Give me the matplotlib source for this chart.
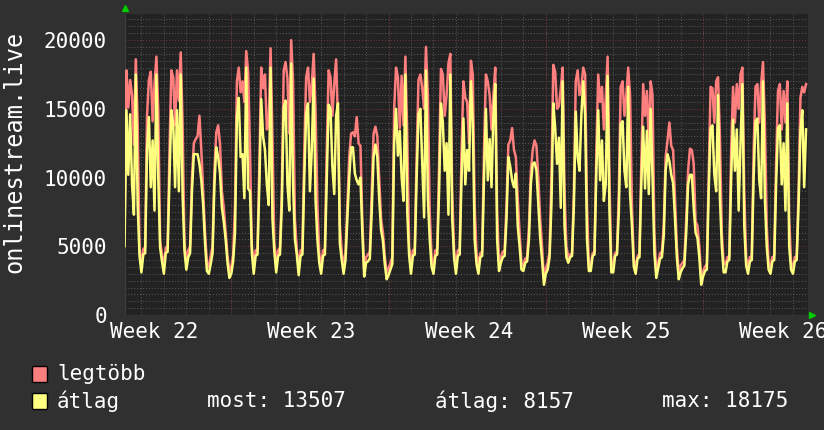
import numpy as np
import matplotlib
matplotlib.use("Agg")
import matplotlib.pyplot as plt
from matplotlib.patches import Rectangle

# munin month graph, one sample every 2 hours, x in days from the first day grid line
sample_step = 1 / 12
first_sample = -0.75

# legtöbb (max) - one row per day
legtobb = [
    6000, 17800, 15100, 17100, 16000, 12400, 18600, 14000, 4800,
    3600, 4800, 4900, 14500, 17100, 17700, 14100, 16800, 18800, 14900, 5400, 4400,
    3500, 4900, 5000, 12000, 17800, 17300, 13800, 17800, 15600, 19100, 14000, 5200,
    3800, 4700, 5000, 10000, 12500, 12800, 13000, 14500, 12000, 9000, 6000, 3800,
    3500, 4300, 5000, 10500, 13300, 13800, 12400, 9000, 7800, 6000, 4300, 3200,
    3500, 4400, 8000, 17000, 18000, 16200, 17000, 15500, 19200, 17700, 12000, 5000,
    3700, 4700, 4800, 11000, 18000, 16500, 17500, 13500, 14000, 19400, 13000, 5200,
    3700, 4700, 4900, 9000, 17800, 18400, 17200, 13200, 20000, 17000, 7000, 4800,
    3400, 4700, 4800, 12000, 17300, 18000, 15500, 16800, 19000, 15000, 8000, 4500,
    3500, 4700, 4800, 12000, 17800, 17300, 14500, 16800, 18600, 14000, 6500, 4600,
    3500, 4500, 8000, 11500, 13200, 13300, 13000, 14400, 12500, 12300, 7000, 3200,
    4200, 4400, 4600, 9000, 13200, 13700, 13000, 10000, 7000, 6000, 4300, 3100,
    3400, 3800, 4200, 15000, 18000, 17300, 13600, 17400, 13800, 18800, 13000, 5000,
    3600, 4700, 4800, 11500, 17100, 17500, 16500, 15000, 19500, 16000, 7500, 4200,
    3400, 4700, 4800, 11000, 17900, 17500, 14500, 16000, 18300, 19000, 9000, 4800,
    3400, 4700, 4800, 12000, 17000, 15800, 15500, 12500, 18500, 17500, 8000, 4500,
    3400, 4500, 4600, 12000, 17500, 17000, 16000, 13500, 16000, 18000, 7500, 3900,
    4200, 4600, 4700, 8000, 12400, 12700, 13600, 12000, 11500, 8500, 6000, 3800,
    3600, 4100, 4200, 6500, 10500, 12000, 12700, 12300, 10000, 7000, 5000, 2600,
    3400, 3800, 4600, 10000, 18200, 17700, 15000, 15200, 16500, 18000, 9000, 5000,
    4200, 4400, 4500, 9000, 17000, 17800, 16000, 16600, 18000, 17500, 8000, 3600,
    3600, 4500, 4600, 12000, 17500, 15500, 16600, 13500, 15800, 18800, 10000, 3600,
    3700, 4500, 4600, 9000, 16600, 17000, 14500, 16000, 18000, 16000, 8000, 4000,
    3500, 4300, 4400, 11000, 16800, 14500, 16300, 12400, 17000, 16000, 6000, 3000,
    3800, 4500, 4600, 6500, 11500, 12700, 14000, 12300, 12000, 8500, 5000, 3000,
    3600, 3800, 4000, 7000, 10500, 12100, 12000, 11000, 6800, 6500, 5000, 2700,
    3200, 3500, 3700, 10000, 16600, 16500, 14000, 17000, 17300, 13000, 6000, 3700,
    3700, 4200, 4300, 12000, 16600, 14000, 16800, 15000, 17500, 18000, 9000, 4200,
    3500, 4200, 4300, 12000, 16600, 16800, 14000, 16800, 18400, 14000, 6500, 3800,
    3500, 4200, 4300, 11000, 16300, 16800, 13500, 16300, 14000, 17000, 7000, 3800,
    3500, 4200, 4300, 9000, 15800, 16600, 16200, 16800,
]

# átlag (average) - one row per day
atlag = [
    5000, 14900, 10200, 14600, 9500, 7300, 17500, 8000, 4300,
    3100, 4400, 4500, 12000, 14400, 9300, 12700, 7600, 17500, 10000, 4900, 3900,
    3000, 4500, 4600, 10000, 14900, 13900, 9300, 14900, 9000, 17500, 8800, 4700,
    3300, 4200, 4500, 9000, 11700, 11700, 11700, 11000, 9800, 8000, 5200, 3200,
    3000, 3700, 4500, 9500, 12200, 11500, 10300, 7800, 6800, 5500, 3800, 2700,
    3000, 3900, 6000, 14400, 15800, 11500, 11700, 8500, 18000, 9200, 9000, 4500,
    3000, 4300, 4400, 9500, 15700, 13000, 12000, 9500, 8000, 18000, 7000, 4600,
    3100, 4300, 4400, 8000, 15100, 15600, 9500, 7600, 18300, 9500, 5500, 4400,
    2900, 4300, 4400, 10000, 14600, 15400, 9000, 12000, 17200, 8400, 5500, 3800,
    3000, 4300, 4400, 10000, 15300, 15000, 10800, 8800, 14500, 15400, 5200, 4000,
    3000, 4000, 7000, 10000, 12200, 12200, 10300, 9800, 9500, 10000, 6000, 2800,
    3800, 3900, 4100, 7500, 11500, 12400, 11500, 8500, 6200, 5400, 3700, 2600,
    2900, 3300, 3700, 12500, 15000, 11600, 13400, 10000, 8300, 17500, 7500, 4300,
    3000, 4300, 4400, 10000, 14600, 15000, 11000, 7100, 17800, 8500, 5500, 3500,
    3000, 4300, 4400, 9000, 15400, 14000, 10500, 12500, 7300, 17500, 7000, 4200,
    3000, 4300, 4400, 10000, 14300, 9500, 12000, 10500, 17000, 14000, 5500, 3700,
    3000, 4200, 4300, 10000, 15000, 9800, 12800, 9300, 14500, 16800, 5500, 3200,
    3800, 4200, 4300, 7000, 11500, 10800, 9800, 9300, 10300, 6500, 5000, 3300,
    3200, 3800, 3900, 5500, 9500, 11000, 11100, 10500, 8000, 5600, 4000, 2200,
    3000, 3300, 4200, 8000, 15400, 13600, 11000, 12900, 7800, 17000, 6500, 4200,
    3800, 4200, 4300, 8000, 14800, 11500, 10500, 14600, 17000, 14500, 5500, 3200,
    3200, 4300, 4400, 10500, 14900, 9800, 12700, 8300, 9500, 17400, 7500, 3100,
    3100, 4300, 4400, 7500, 13900, 14100, 10500, 9300, 16600, 8800, 6500, 3500,
    3000, 4100, 4200, 9500, 13700, 9200, 13400, 8800, 15000, 10000, 4500, 2700,
    3400, 4100, 4200, 5800, 10500, 11700, 11200, 10200, 9600, 7000, 4200, 2600,
    3100, 3400, 3600, 6000, 9500, 10200, 10200, 7800, 6000, 5600, 4200, 2200,
    2800, 3200, 3300, 9000, 13600, 13800, 10200, 9000, 16000, 8500, 5000, 3100,
    3100, 3900, 4000, 10000, 14200, 10500, 13500, 7600, 12500, 16800, 6500, 3600,
    3000, 3900, 4000, 10000, 14100, 14300, 9800, 8500, 17000, 8500, 5000, 3300,
    3000, 3900, 4000, 9500, 13600, 13800, 9500, 12500, 7600, 15400, 5000, 3300,
    3000, 3900, 4000, 8000, 13400, 14900, 9300, 13507,
]

week_labels = ["Week 22", "Week 23", "Week 24", "Week 25", "Week 26"]
week_label_pos = [0.57, 7.57, 14.57, 21.57, 28.57]
week_lines = [4, 11, 18, 25]
y_ticks = [0, 5000, 10000, 15000, 20000]

BG = "#303030"
PLOT_BG = "#222222"
MINOR = "#5a5a5a"
MAJOR = "#7a3434"
RED = "#ff7f7f"
YELLOW = "#ffff7f"
FONT = "DejaVu Sans Mono"

t = first_sample + np.arange(len(legtobb)) * sample_step

fig = plt.figure(figsize=(8.24, 4.30), dpi=100, facecolor=BG)
ax = fig.add_axes([125 / 824, 1 - 315 / 430, 683 / 824, 301 / 430])
ax.set_facecolor(PLOT_BG)

ax.plot(t, legtobb, color=RED, lw=1.8, zorder=3)
ax.plot(t, atlag, color=YELLOW, lw=1.8, zorder=4)

ax.set_xlim(-0.73, 29.67)
ax.set_ylim(0, 21900)

# grid
ax.set_xticks(week_label_pos, week_labels)
ax.set_xticks(np.arange(0, 30), minor=True)
ax.set_yticks(y_ticks, [str(v) for v in y_ticks])
ax.set_yticks(np.arange(500, 21900, 500), minor=True)
dots = (0, (1, 2))
ax.grid(which="minor", axis="both", color=MINOR, lw=0.7, ls=dots, zorder=1)
ax.grid(which="major", axis="y", color=MAJOR, lw=0.7, ls=dots, zorder=2)
for w in week_lines:
    ax.axvline(w, color=MAJOR, lw=0.7, ls=dots, zorder=2)

ax.tick_params(which="both", length=0, colors="white", labelsize=15)
ax.tick_params(axis="x", pad=5)
ax.tick_params(axis="y", pad=13)
for lab in ax.get_xticklabels() + ax.get_yticklabels():
    lab.set_fontfamily(FONT)
for s in ax.spines.values():
    s.set_visible(False)
ax.axhline(0, color="#3c3c3c", lw=1, zorder=2)
ax.axvline(-0.73, color="#3c3c3c", lw=1.5, zorder=2)

# green axis arrows
ax.plot([0], [1.02], marker="^", color="#00cc00", ms=5, transform=ax.transAxes, clip_on=False)
ax.plot([1.006], [0], marker=">", color="#00cc00", ms=5, transform=ax.transAxes, clip_on=False)

fig.text(14 / 824, 1 - 152 / 430, "onlinestream.live", rotation=90, color="white",
         fontsize=17, family=FONT, ha="center", va="center")

# legend
for y_px, col, name in [(373.5, RED, "legtöbb"), (401, YELLOW, "átlag")]:
    fig.patches.append(Rectangle((32 / 824, 1 - (y_px + 8) / 430), 15 / 824, 16 / 430,
                                 transform=fig.transFigure, facecolor=col,
                                 edgecolor="black", lw=1))
    fig.text(57 / 824, 1 - y_px / 430, name, color="white", fontsize=15, family=FONT,
             va="center")
for x_px, txt in [(207, "most: 13507"), (435, "átlag: 8157"), (662, "max: 18175")]:
    fig.text(x_px / 824, 1 - 401 / 430, txt, color="white", fontsize=15, family=FONT,
             va="center")

fig.savefig("out.png", dpi=100, facecolor=BG)
